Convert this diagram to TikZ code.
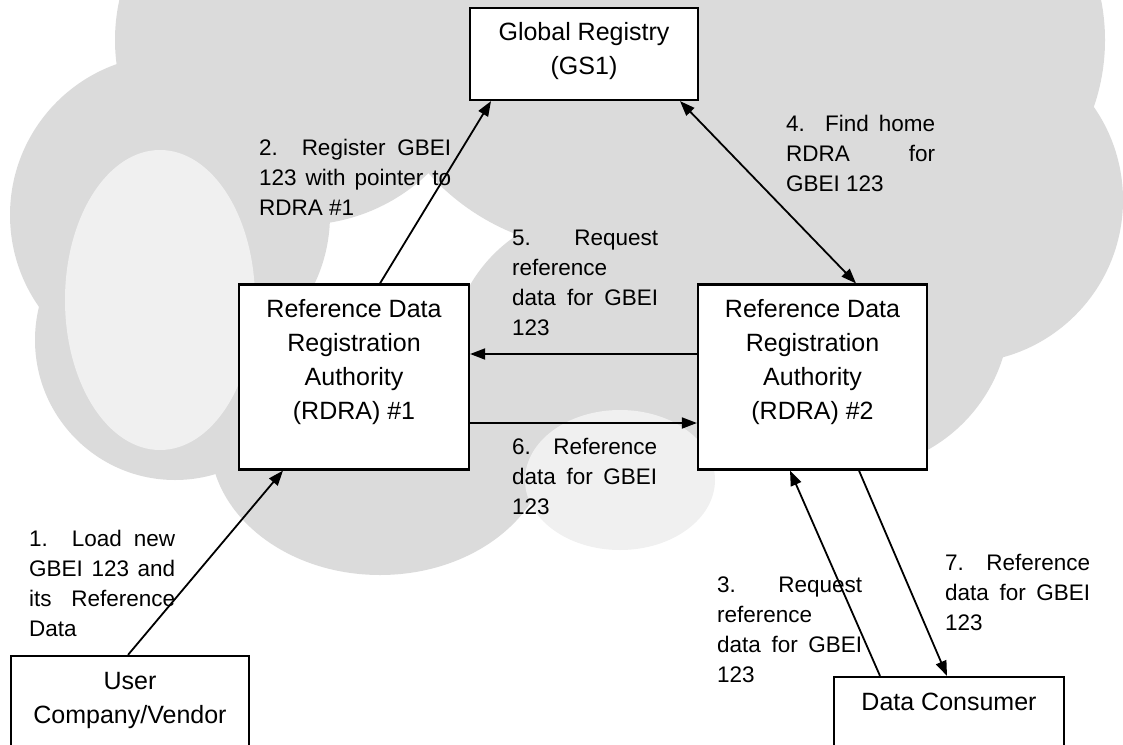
\documentclass[tikz,border=0pt]{standalone}
\usepackage{fontspec}
\setmainfont{Liberation Sans}
\usetikzlibrary{arrows.meta}
\newcommand{\jline}[2]{\makebox[#1][s]{#2}}
\begin{document}
\begin{tikzpicture}[x=1pt,y=-1pt,
  cloudfill/.style={fill=black!14, draw=none},
  cloudlight/.style={fill=black!6, draw=none},
  box/.style={draw, line width=2.2pt, fill=white, inner sep=0pt},
  btext/.style={font=\fontsize{25}{34}\selectfont, align=center, inner sep=0pt},
  lbl/.style={font=\fontsize{22.5}{30}\selectfont, align=left, anchor=north west, inner sep=0pt},
  arr/.style={line width=1.8pt, -{Triangle[length=15pt,width=11pt]}},
  darr/.style={line width=1.8pt, {Triangle[length=15pt,width=11pt]}-{Triangle[length=15pt,width=11pt]}}
]
\useasboundingbox (0,0) rectangle (1123,744);
\clip (0,0) rectangle (1123,744);
% cloud background
\fill[cloudfill] (300,40) circle[radius=185];
\fill[cloudfill] (170,215) circle[radius=160];
\fill[cloudfill] (175,340) circle[radius=140];
\fill[cloudfill] (380,440) ellipse[x radius=170, y radius=135];
\fill[cloudfill] (600,360) circle[radius=150];
\fill[cloudfill] (720,250) circle[radius=130];
\fill[cloudfill] (850,310) circle[radius=160];
\fill[cloudfill] (960,200) circle[radius=163];
\fill[cloudfill] (900,40) circle[radius=205];
\fill[cloudfill] (600,20) circle[radius=230];
\fill[cloudlight] (160,300) ellipse[x radius=95, y radius=150];
\fill[cloudlight] (620,480) ellipse[x radius=95, y radius=70];

% boxes
\node[box, minimum width=228pt, minimum height=92pt] (gr) at (584,54) {};
\node[btext] (grt) at (584,51) {Global Registry\\(GS1)};

\node[box, minimum width=230pt, minimum height=185pt] (r1) at (354,377) {};
\node[btext] (r1t) at (354,362) {Reference Data\\Registration\\Authority\\(RDRA) \#1};

\node[box, minimum width=229pt, minimum height=185pt] (r2) at (812.5,377) {};
\node[btext] (r2t) at (812.5,362) {Reference Data\\Registration\\Authority\\(RDRA) \#2};

\node[box, minimum width=238pt, minimum height=100pt] (uc) at (130,706) {};
\node[btext] (uct) at (130,700) {User\\Company/Vendor};

\node[box, minimum width=230pt, minimum height=100pt] (dc) at (949,727) {};
\node[btext] (dct) at (949,702) {Data Consumer};

% connectors
\draw[arr] ([xshift=-2pt]uc.north) -- ([xshift=-71pt]r1.south);
\draw[arr] ([xshift=26pt]r1.north) -- ([xshift=-93pt]gr.south);
\draw[darr] ([xshift=96pt]gr.south) -- ([xshift=43.5pt]r2.north);
\draw[arr] ([yshift=23pt]r2.west) -- ([yshift=23pt]r1.east);
\draw[arr] ([yshift=-46pt]r1.east) -- ([yshift=-46pt]r2.west);
\draw[arr] ([xshift=-69pt]dc.north) -- ([xshift=-22.5pt]r2.south);
\draw[arr] ([xshift=46.5pt]r2.south) -- ([xshift=-2pt]dc.north);

% labels
\node[lbl] (l1) at (29,530) {\jline{146pt}{1.\ \ Load new}\\\jline{146pt}{GBEI 123 and}\\\jline{146pt}{its\ \ Reference}\\Data};
\node[lbl] (l2) at (259,139) {\jline{192pt}{2.\ \ Register GBEI}\\\jline{192pt}{123 with pointer to}\\RDRA \#1};
\node[lbl] (l4) at (786,115) {\jline{149pt}{4.\ \ Find home}\\\jline{149pt}{RDRA for}\\GBEI 123};
\node[lbl] (l5) at (512,230) {\jline{146pt}{5.\ \ Request}\\reference\\\jline{146pt}{data for GBEI}\\123};
\node[lbl] (l6) at (512,438) {\jline{145pt}{6.\ \ Reference}\\\jline{145pt}{data for GBEI}\\123};
\node[lbl] (l3) at (717,577) {\jline{145pt}{3.\ \ Request}\\reference\\\jline{145pt}{data for GBEI}\\123};
\node[lbl] (l7) at (945,554) {\jline{145pt}{7.\ \ Reference}\\\jline{145pt}{data for GBEI}\\123};
\end{tikzpicture}
\end{document}
